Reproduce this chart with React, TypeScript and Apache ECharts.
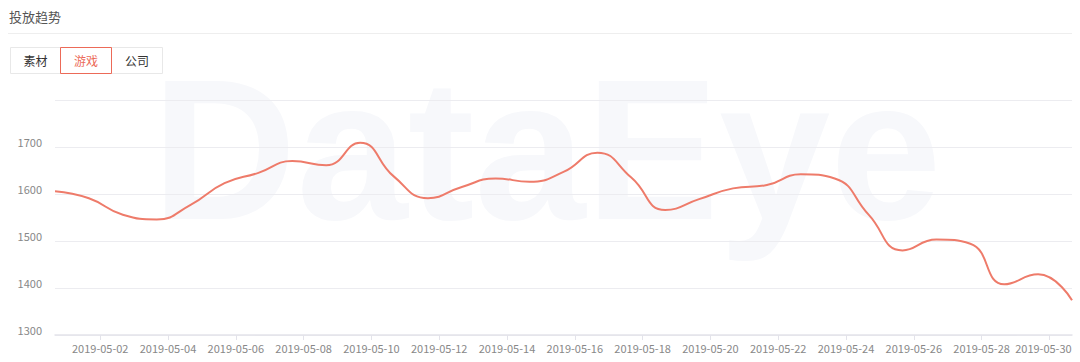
import React, { useEffect, useRef } from "react";
import * as echarts from "echarts";

const title = "投放趋势";
const tabs = ["素材", "游戏", "公司"];
const activeTab = "游戏";
const watermark = "DataEye";

const dates = [
  "2019-05-01", "2019-05-02", "2019-05-03", "2019-05-04", "2019-05-05", "2019-05-06",
  "2019-05-07", "2019-05-08", "2019-05-09", "2019-05-10", "2019-05-11", "2019-05-12",
  "2019-05-13", "2019-05-14", "2019-05-15", "2019-05-16", "2019-05-17", "2019-05-18",
  "2019-05-19", "2019-05-20", "2019-05-21", "2019-05-22", "2019-05-23", "2019-05-24",
  "2019-05-25", "2019-05-26", "2019-05-27", "2019-05-28", "2019-05-29", "2019-05-30",
  "2019-05-31",
];
const values = [
  1606, 1591, 1556, 1546, 1577, 1623, 1645, 1670, 1661, 1709, 1637, 1591, 1615, 1633,
  1626, 1647, 1688, 1635, 1566, 1589, 1612, 1619, 1642, 1633, 1556, 1480, 1503, 1494,
  1408, 1429, 1374,
];
const tickLabels = [
  "2019-05-02", "2019-05-04", "2019-05-06", "2019-05-08", "2019-05-10", "2019-05-12",
  "2019-05-14", "2019-05-16", "2019-05-18", "2019-05-20", "2019-05-22", "2019-05-24",
  "2019-05-26", "2019-05-28", "2019-05-30",
];
const yMin = 1300;
const yMax = 1800;
const yStep = 100;

// data points are at Beijing midnight, ticks at UTC midnight
const toPointTime = (d: string) => Date.parse(d + "T00:00:00+08:00");
const toTickTime = (d: string) => Date.parse(d + "T00:00:00Z");

export default function App() {
  const ref = useRef<HTMLDivElement>(null);
  useEffect(() => {
    if (!ref.current) return;
    const chart = echarts.init(ref.current, undefined, { renderer: "svg" });
    const font = '"Noto Sans CJK SC", "Noto Sans", sans-serif';
    const seriesData = dates.map((d, i) => [toPointTime(d), values[i]]);
    const tickValues = tickLabels.map(toTickTime);
    const lastTick = tickValues[tickValues.length - 1];
    const tabW = [50, 51, 51];
    let tx = 10;
    const tabEls: any[] = [];
    tabs.forEach((t, i) => {
      const active = t === activeTab;
      if (active) {
        tabEls.push({
          type: "rect",
          shape: { x: tx + 0.5, y: 47.5, width: tabW[i], height: 26 },
          style: { fill: "#fff", stroke: "#ec6a58", lineWidth: 1 },
          z: 11,
        });
      }
      tabEls.push({
        type: "text",
        style: {
          x: tx + tabW[i] / 2 + 0.5,
          y: 60.5,
          text: t,
          font: `12px ${font}`,
          fill: active ? "#ec6a58" : "#333",
          align: "center",
          verticalAlign: "middle",
        },
        z: 12,
      });
      tx += tabW[i];
    });

    chart.setOption({
      animation: false,
      backgroundColor: "#fff",
      textStyle: { fontFamily: font },
      grid: { left: 55, right: 8, top: 100, bottom: 27 },
      graphic: [
        {
          type: "text",
          z: -10,
          silent: true,
          style: {
            x: 152,
            y: 149,
            text: watermark,
            font: 'bold 200px "Liberation Sans", Arial, sans-serif',
            fill: "#f7f8fb",
            verticalAlign: "middle",
          },
        },
        {
          type: "text",
          style: {
            x: 9,
            y: 16,
            text: title,
            font: `13px ${font}`,
            fill: "#555",
            verticalAlign: "middle",
          },
        },
        {
          type: "line",
          shape: { x1: 8, y1: 33.5, x2: 1072, y2: 33.5 },
          style: { stroke: "#eeeeee", lineWidth: 1 },
        },
        {
          type: "rect",
          shape: { x: 10.5, y: 47.5, width: 152, height: 26 },
          style: { fill: "#fff", stroke: "#e8e8e8", lineWidth: 1 },
          z: 10,
        },
        ...tabEls,
      ],
      xAxis: {
        type: "value",
        min: seriesData[0][0],
        max: seriesData[seriesData.length - 1][0],
        splitLine: { show: false },
        axisLine: { show: true, lineStyle: { color: "#e3e3ea", width: 1.5 } },
        axisTick: {
          show: true,
          customValues: tickValues,
          length: 5,
          lineStyle: { color: "#e3e3ea" },
        },
        axisLabel: {
          customValues: tickValues,
          color: "#888",
          fontSize: 11,
          margin: 7,
          formatter: (v: number) => {
            const s = new Date(v).toISOString().slice(0, 10);
            return v === lastTick ? `{last|${s}}` : s;
          },
          rich: {
            last: { color: "#888", fontSize: 11, padding: [0, 12, 0, 0] },
          },
        },
      },
      yAxis: {
        type: "value",
        min: yMin,
        max: yMax,
        interval: yStep,
        axisLine: { show: false },
        axisTick: { show: false },
        splitLine: { lineStyle: { color: "#ececf0", width: 1 } },
        axisLabel: {
          color: "#888",
          fontSize: 11,
          margin: 13,
          verticalAlign: "bottom",
          showMaxLabel: false,
          formatter: (v: number) => String(v),
        },
      },
      series: [
        {
          type: "line",
          data: seriesData,
          smooth: true,
          showSymbol: false,
          lineStyle: { color: "#ee7b6a", width: 2 },
          itemStyle: { color: "#ee7b6a" },
          z: 5,
        },
      ],
    });
    return () => chart.dispose();
  }, []);
  return (
    <div
      ref={ref}
      style={{ position: "fixed", left: 0, top: 0, width: 1080, height: 362 }}
    />
  );
}
